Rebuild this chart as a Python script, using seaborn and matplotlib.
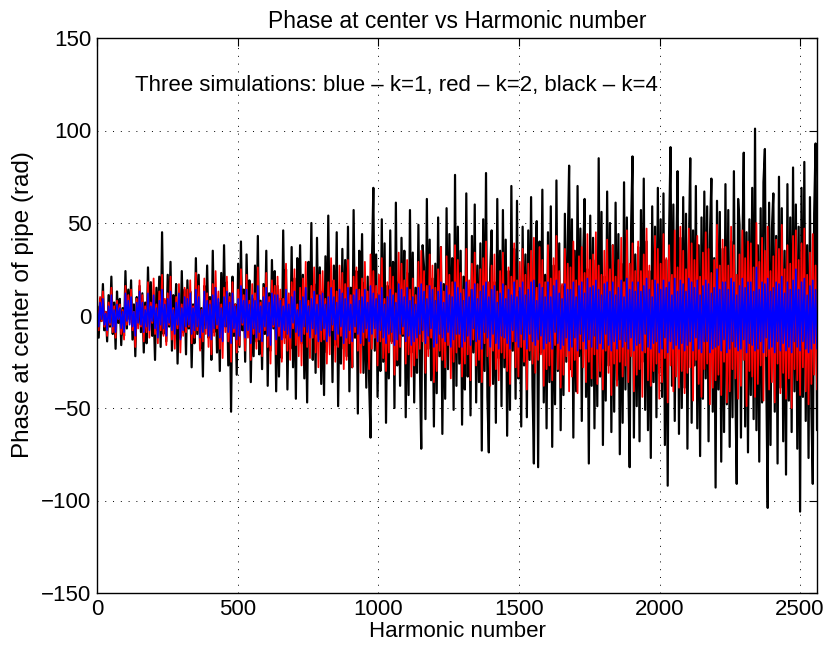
import numpy as np
import pandas as pd
import matplotlib
matplotlib.use("Agg")
import matplotlib.pyplot as plt
import seaborn as sns

# ---- data (one value every ~5 harmonics) ----
black_k4 = [
    5, -12, 9, -3, 17, -8, 2, -14, 11, -6, 21, -10, 7, -18, 13, -4,
    9, -16, 4, -11, 24, -7, 14, -2, 19, -13, 6, -22, 10, -5, 16, -9,
    12, -20, 7, -15, 26, -4, 18, -11, 3, -24, 15, -8, 21, -17, 45, -10,
    8, -14, 22, -6, 29, -19, 11, -3, 17, -26, 5, -12, 24, -9, 14, -21,
    19, -7, 13, -28, 6, -15, 31, -10, 22, -18, 4, -33, 16, -5, 27, -12,
    10, -24, 35, -9, 15, -20, 7, -30, 23, -13, 38, -6, 18, -27, 12, -52,
    21, -11, 6, -32, 28, -17, 40, -8, 14, -25, 33, -4, 19, -36, 9, -22,
    27, -14, 43, -21, 8, -29, 17, -10, 35, -38, 12, -19, 30, -7, 24, -41,
    16, -33, 9, -23, 46, -12, 25, -40, 6, -18, 37, -28, 20, -45, 31, -9,
    38, -15, 22, -34, 11, -47, 29, -7, 50, -24, 17, -31, 42, -13, 26, -37,
    13, -43, 32, -20, 54, -9, 19, -36, 27, -16, 45, -49, 10, -26, 36, -18,
    30, -22, 48, -41, 15, -28, 57, -12, 24, -53, 35, -8, 44, -31, 18, -39,
    21, -35, -66, 28, 69, -19, 33, -44, 12, -30, 52, -25, 39, -58, 16, -34,
    46, -14, 29, -50, 61, -27, 18, -38, 42, -11, 35, -55, 23, -43, 57, -20,
    34, -47, 15, -31, 49, -24, -72, 38, 26, -56, 63, -18, 41, -35, 20, -60,
    28, -42, 53, -22, 37, -64, 17, -45, 58, -29, 44, -16, 31, -51, 76, -38,
    48, -26, 35, -59, 21, -40, 66, -33, 14, -54, 43, -20, 60, -47, 27, -36,
    39, -73, 52, -30, 77, -44, -74, 25, 46, -37, 18, -58, 63, -23, 35, -49,
    57, -28, 41, -65, 24, -51, 70, -19, 36, -45, 62, -34, 13, -60, 48, -27,
    33, -55, 46, -24, 64, -38, -80, 29, 51, -82, 40, -20, 68, -47, 22, -61,
    45, -36, 59, -71, 27, -48, 73, -30, 39, -62, 16, -43, 55, -25, 37, 81,
    -29, 52, -66, 35, -41, 70, -22, 47, -57, 31, 63, -44, 25, -80, 54, -38,
    42, -61, 30, -49, 85, -33, 56, -70, 21, -46, 67, -27, 50, -63, 38, -52,
    61, -35, 44, -75, 28, -58, 72, -40, 53, -30, -82, 47, 86, -66, 33, -49,
    37, -68, 57, -25, 74, -51, 40, -62, 24, -77, 59, -36, 48, -55, 69, -31,
    52, -44, 66, -70, 30, -92, 45, 91, -38, 60, -57, 27, 78, -64, 42, -50,
    64, -39, 55, -72, 33, 85, -58, 46, -27, 70, -61, 38, -76, 53, -45, 67,
    -34, 59, -68, 43, 74, -52, 31, -93, 62, -40, 56, -79, 36, -63, 71, -48,
    57, -71, 40, -55, 78, -37, -91, 63, 49, -66, 34, 88, -60, 45, -74, 52,
    -43, 69, -56, 101, -62, 38, -79, 58, -47, 72, 90, -35, -104, 61, -70, 47,
    66, -52, 43, -80, 75, -39, 58, -68, 35, -86, 71, -46, 53, -63, 80, -41,
    60, -72, 48, -106, 69, -44, 83, -57, 38, -77, 64, -50, -91, 55, 93, -62,
]
red_k2 = [
    4, -8, 10, -3, 13, -6, 2, -11, 7, -5, 15, -9, 5, -12, 8, -2,
    6, -10, 3, -13, 16, -5, 11, -4, 14, -8, 2, -17, 9, -7, 19, -6,
    11, -14, 5, -9, 18, -12, 7, -4, 20, -10, 6, -15, 13, -8, 22, -11,
    9, -16, 12, -5, 21, -13, 4, -18, 10, -7, 17, -20, 6, -11, 15, -9,
    14, -6, 19, -15, 5, -12, 23, -8, 16, -19, 3, -14, 20, -10, 12, -17,
    8, -21, 17, -11, 24, -7, 13, -18, 6, -23, 15, -9, 21, -14, 10, -25,
    18, -9, 6, -20, 14, -16, 25, -5, 11, -19, 22, -12, 8, -24, 17, -10,
    12, -18, 26, -13, 7, -22, 15, -8, 23, -17, 10, -26, 19, -6, 16, -21,
    21, -11, 14, -25, 9, -15, 28, -19, 12, -24, 18, -7, 25, -16, 6, -22,
    15, -27, 20, -10, 29, -17, 8, -23, 16, -12, 26, -20, 11, -28, 22, -14,
    24, -13, 9, -26, 18, -21, 31, -8, 19, -25, 13, -17, 27, -11, 23, -29,
    17, -24, 30, -15, 11, -28, 21, -9, 26, -19, 14, -31, 20, -16, 29, -12,
    13, -29, 33, -18, 24, -12, 16, -27, 22, -14, 31, -23, 9, -30, 18, -20,
    26, -15, 21, -32, 12, -24, 34, -17, 28, -10, 19, -26, 30, -21, 14, -33,
    20, -27, 11, -23, 29, -18, 35, -14, 24, -31, 16, -22, 33, -12, 27, -36,
    15, -30, 25, -19, 37, -24, 13, -28, 32, -16, 22, -34, 18, -25, 38, -20,
    30, -17, 23, -33, 14, -26, 36, -21, 19, -35, 28, -13, 34, -27, 17, -24,
    25, -36, 31, -15, 40, -22, 18, -38, 27, -19, 33, -29, 13, -35, 24, -20,
    34, -23, 16, -30, 26, -37, 21, -14, 39, -28, 19, -33, 29, -17, 36, -25,
    22, -40, 28, -19, 35, -26, 42, -31, 15, -24, 37, -21, 30, -38, 18, -29,
    38, -27, 20, -35, 31, -16, 43, -29, 24, -39, 17, -32, 36, -22, 28, -41,
    26, -33, 40, -24, 19, -42, 32, -18, 37, -28, 23, -36, 44, -25, 30, -34,
    33, -21, 45, -37, 27, -30, 22, -40, 35, -19, 41, -31, 25, -43, 38, -26,
    21, -38, 30, -25, 42, -33, 18, -27, 46, -36, 28, -22, 39, -41, 24, -32,
    40, -29, 24, -44, 33, -20, 47, -35, 27, -38, 19, -30, 43, -26, 36, -45,
    28, -36, 44, -23, 31, -47, 38, -27, 22, -41, 46, -33, 26, -39, 48, -30,
    35, -42, 25, -31, 47, -28, 39, -46, 30, -24, 43, -37, 21, -44, 34, -29,
    45, -26, 36, -48, 23, -39, 30, -35, 49, -32, 27, -43, 41, -25, 37, -47,
    27, -41, 48, -29, 38, -34, 22, -45, 33, -38, 46, -24, 31, -49, 40, -30,
    39, -33, 26, -44, 50, -37, 29, -27, 42, -46, 35, -22, 48, -40, 24, -36,
    32, -47, 41, -26, 36, -42, 49, -31, 25, -45, 38, -34, 28, -50, 43, -29,
    46, -35, 30, -43, 39, -28, 47, -41, 22, -48, 34, -37, 44, -32, 27, -40,
]
blue_k1 = [
    3, -6, 7, -2, 9, -5, 1, -8, 5, -4, 11, -6, 3, -9, 6, -2,
    4, -7, 2, -9, 12, -3, 8, -5, 10, -6, 2, -11, 7, -4, 13, -5,
    7, -9, 3, -6, 12, -8, 5, -3, 11, -7, 4, -12, 8, -5, 14, -7,
    6, -11, 9, -4, 13, -8, 3, -10, 7, -5, 12, -13, 4, -8, 10, -6,
    9, -5, 12, -10, 4, -8, 14, -6, 10, -12, 3, -9, 13, -7, 8, -11,
    6, -13, 11, -7, 15, -5, 9, -12, 4, -14, 10, -6, 13, -9, 7, -15,
    12, -7, 5, -13, 9, -11, 16, -4, 8, -12, 14, -8, 6, -15, 11, -7,
    8, -12, 16, -9, 5, -14, 10, -6, 15, -11, 7, -16, 12, -5, 11, -13,
    11, -6, 8, -13, 5, -8, 14, -10, 6, -12, 10, -4, 13, -9, 3, -11,
    8, -14, 10, -6, 15, -9, 5, -12, 9, -7, 13, -10, 6, -14, 11, -8,
    12, -7, 6, -14, 10, -11, 15, -5, 10, -13, 7, -10, 14, -6, 12, -15,
    9, -12, 15, -8, 6, -14, 11, -6, 14, -10, 8, -15, 10, -9, 14, -7,
    7, -14, 16, -10, 12, -7, 9, -14, 11, -8, 15, -12, 6, -15, 10, -10,
    14, -9, 11, -16, 7, -13, 17, -10, 14, -6, 10, -14, 15, -11, 8, -16,
    10, -14, 6, -12, 15, -10, 17, -8, 13, -15, 9, -11, 16, -7, 14, -17,
    8, -15, 13, -10, 18, -12, 7, -14, 16, -9, 11, -17, 10, -13, 18, -10,
    15, -10, 12, -17, 8, -14, 18, -11, 10, -16, 14, -7, 17, -14, 9, -13,
    13, -18, 16, -9, 18, -12, 10, -17, 14, -10, 16, -15, 7, -18, 12, -11,
    17, -12, 9, -15, 14, -18, 11, -8, 18, -14, 10, -17, 15, -10, 18, -13,
    11, -18, 14, -10, 18, -14, 19, -16, 8, -13, 17, -11, 15, -18, 10, -15,
    18, -14, 10, -18, 16, -9, 19, -15, 12, -18, 9, -16, 17, -12, 14, -19,
    14, -17, 18, -12, 10, -19, 16, -10, 18, -14, 12, -18, 20, -13, 15, -17,
    16, -11, 19, -18, 14, -15, 11, -18, 17, -10, 18, -16, 13, -19, 18, -14,
    11, -18, 15, -13, 19, -17, 10, -14, 20, -18, 14, -12, 18, -19, 13, -16,
    18, -15, 13, -19, 16, -10, 20, -17, 14, -18, 10, -15, 19, -14, 17, -20,
    14, -18, 19, -12, 15, -20, 18, -14, 11, -18, 20, -16, 13, -18, 19, -15,
    17, -19, 13, -16, 20, -14, 18, -19, 15, -12, 19, -18, 11, -20, 16, -14,
    19, -14, 17, -20, 12, -18, 15, -17, 25, -16, 14, -19, 18, -13, 18, -20,
    14, -18, 20, -14, 18, -17, 11, -19, 16, -18, 20, -13, 15, -20, 18, -15,
    18, -16, 13, -19, 26, -18, 14, -14, 18, -20, 17, -12, 20, -18, 13, -17,
    15, -20, 18, -14, 17, -19, 21, -15, 12, -19, 18, -17, 14, -20, 19, -14,
    25, -17, 14, -19, 18, -14, 20, -18, 11, -20, 16, -18, 19, -15, 14, -18,
]
n_harmonics = 2560
x_ticks = [0, 500, 1000, 1500, 2000, 2500]
y_ticks = [-150, -100, -50, 0, 50, 100, 150]
title = "Phase at center vs Harmonic number"
xlabel = "Harmonic number"
ylabel = "Phase at center of pipe (rad)"
note = "Three simulations: blue \u2013 k=1, red \u2013 k=2, black \u2013 k=4"

harm = np.linspace(1, n_harmonics, len(black_k4))
df = pd.DataFrame({"harm": harm, "black": black_k4, "red": red_k2, "blue": blue_k1})

sns.set_style("white")
plt.rcParams["font.family"] = ["Liberation Sans", "DejaVu Sans"]
plt.rcParams["axes.unicode_minus"] = True
plt.rcParams["text.color"] = "black"
plt.rcParams["axes.labelcolor"] = "black"

fig = plt.figure(figsize=(8.26, 6.51), dpi=100)
ax = fig.add_axes([97 / 826, 1 - 593 / 651, 720 / 826, 555 / 651])

for col, colour, lw in [("black", "#000000", 1.6), ("red", "#ff0000", 1.3),
                        ("blue", "#0000ff", 1.2)]:
    sns.lineplot(data=df, x="harm", y=col, ax=ax, color=colour, lw=lw,
                 estimator=None, sort=False, legend=False)

ax.set_xlim(0, n_harmonics)
ax.set_ylim(-150, 150)
ax.set_xticks(x_ticks)
ax.set_yticks(y_ticks)
ax.grid(True, color="black", linestyle=(0, (1, 7)), linewidth=0.7)
ax.set_axisbelow(True)
ax.tick_params(direction="in", length=6, width=0.8, top=True, right=True,
               labelsize=16, colors="black", pad=4)
for s in ax.spines.values():
    s.set_visible(True)
    s.set_color("black")
    s.set_linewidth(1.0)
    s.set_zorder(5)

ax.set_title(title, fontsize=16.5, pad=7, color="black")
ax.set_xlabel(xlabel, fontsize=16, labelpad=1, color="black")
ax.set_ylabel(ylabel, fontsize=17.5, color="black")
ax.yaxis.set_label_coords((34 - 97) / 720, (593 - 305) / 555)
ax.text(135, 124.5, note, fontsize=16, va="center", ha="left", color="black")

fig.savefig("out.png", dpi=100)
